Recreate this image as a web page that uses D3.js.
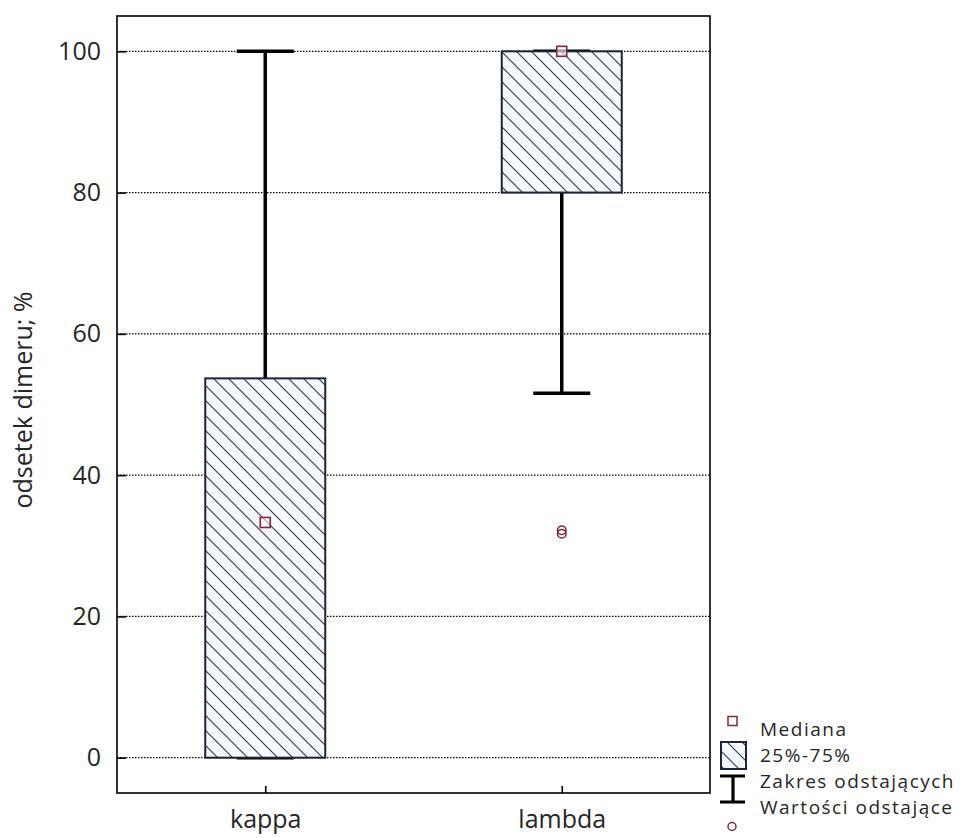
<!DOCTYPE html>
<html>
<head>
<meta charset="utf-8">
<script src="https://cdn.jsdelivr.net/npm/d3@7"></script>
<style>
  html, body { margin: 0; padding: 0; background: #fff; }
  svg { display: block; font-family: "Open Sans", "Noto Sans", sans-serif; }
</style>
</head>
<body>
<svg id="chart" width="967" height="838"></svg>
<script>
// Box-plot statistics per group (odsetek dimeru, %)
const categories = ["kappa", "lambda"];
const medians    = [33.3, 100];
const q1         = [0, 80];
const q3         = [53.7, 100];
const whiskerLow = [0, 51.6];
const whiskerHigh= [100, 100];
const outliers   = [[], [31.7, 32.2]];
const yTicks     = [0, 20, 40, 60, 80, 100];
const yTitle     = "odsetek dimeru; %";
const legendLabels = ["Mediana", "25%-75%", "Zakres odstających", "Wartości odstające"];

const svg = d3.select("#chart");
const plot = { left: 117, right: 710, top: 16, bottom: 793 };

const x = d3.scalePoint().domain(categories).range([plot.left, plot.right]).padding(0.5);
const y = d3.scaleLinear().domain([-5, 105]).range([plot.bottom, plot.top]);

const boxW = 120, capW = 57;
const markRed = "#7d2b36";
const boxStroke = "#1d2438";
const textCol = "#262626";

// hatch pattern for the interquartile boxes
const defs = svg.append("defs");
const pat = defs.append("pattern")
  .attr("id", "hatch").attr("patternUnits", "userSpaceOnUse")
  .attr("width", 15).attr("height", 15);
pat.append("rect").attr("width", 15).attr("height", 15).attr("fill", "#f5f9fd");
pat.append("path").attr("d", "M-3,-3 L18,18 M-3,12 L3,18 M12,-3 L18,3")
  .attr("stroke", "#2f3a4c").attr("stroke-width", 1.1);

// dotted horizontal grid
svg.append("g").selectAll("line").data(yTicks).join("line")
  .attr("x1", plot.left).attr("x2", plot.right)
  .attr("y1", d => y(d)).attr("y2", d => y(d))
  .attr("stroke", "#000").attr("stroke-width", 1.2).attr("stroke-dasharray", "1.5,1.5");

// whiskers
const idx = categories.map((c, i) => i);
svg.append("g").selectAll("line").data(idx).join("line")
  .attr("x1", i => x(categories[i])).attr("x2", i => x(categories[i]))
  .attr("y1", i => y(whiskerHigh[i])).attr("y2", i => y(q3[i]))
  .attr("stroke", "#000").attr("stroke-width", 3.5);
svg.append("g").selectAll("line").data(idx).join("line")
  .attr("x1", i => x(categories[i])).attr("x2", i => x(categories[i]))
  .attr("y1", i => y(q1[i])).attr("y2", i => y(whiskerLow[i]))
  .attr("stroke", "#000").attr("stroke-width", 3.5);
// whisker caps
const caps = [];
idx.forEach(i => { caps.push([i, whiskerHigh[i]]); caps.push([i, whiskerLow[i]]); });
svg.append("g").selectAll("line").data(caps).join("line")
  .attr("x1", d => x(categories[d[0]]) - capW / 2).attr("x2", d => x(categories[d[0]]) + capW / 2)
  .attr("y1", d => y(d[1])).attr("y2", d => y(d[1]))
  .attr("stroke", "#000").attr("stroke-width", 3.5);

// boxes
svg.append("g").selectAll("rect").data(idx).join("rect")
  .attr("x", i => x(categories[i]) - boxW / 2)
  .attr("y", i => y(q3[i]))
  .attr("width", boxW)
  .attr("height", i => y(q1[i]) - y(q3[i]))
  .attr("fill", "url(#hatch)")
  .attr("stroke", boxStroke).attr("stroke-width", 2);

// medians
svg.append("g").selectAll("rect").data(idx).join("rect")
  .attr("x", i => x(categories[i]) - 5).attr("y", i => y(medians[i]) - 5)
  .attr("width", 10).attr("height", 10)
  .attr("fill", "#fbf3f3").attr("fill-opacity", 0.6)
  .attr("stroke", markRed).attr("stroke-width", 1.6);

// outliers
const outPts = [];
idx.forEach(i => outliers[i].forEach(v => outPts.push([i, v])));
svg.append("g").selectAll("circle").data(outPts).join("circle")
  .attr("cx", d => x(categories[d[0]])).attr("cy", d => y(d[1]))
  .attr("r", 4.3).attr("fill", "none")
  .attr("stroke", markRed).attr("stroke-width", 1.6);

// frame
svg.append("rect")
  .attr("x", plot.left).attr("y", plot.top)
  .attr("width", plot.right - plot.left).attr("height", plot.bottom - plot.top)
  .attr("fill", "none").attr("stroke", "#000").attr("stroke-width", 1.6);

// y axis (ticks pointing inward)
const yAxis = svg.append("g").attr("transform", `translate(${plot.left},0)`)
  .call(d3.axisLeft(y).tickValues(yTicks).tickSizeInner(-9).tickSizeOuter(0).tickPadding(16));
yAxis.select(".domain").remove();
yAxis.selectAll(".tick line").attr("stroke", "#000").attr("stroke-width", 1.6);
yAxis.selectAll(".tick text").attr("font-size", 25).attr("fill", textCol)
  .attr("font-family", "'Open Sans', sans-serif");

// x axis (ticks pointing inward)
const xAxis = svg.append("g").attr("transform", `translate(0,${plot.bottom})`)
  .call(d3.axisBottom(x).tickSizeInner(-7).tickSizeOuter(0).tickPadding(17));
xAxis.select(".domain").remove();
xAxis.selectAll(".tick line").attr("stroke", "#000").attr("stroke-width", 1.6);
xAxis.selectAll(".tick text").attr("font-size", 25).attr("fill", textCol)
  .attr("font-family", "'Open Sans', sans-serif");

// y title
svg.append("text")
  .attr("transform", "translate(32,400) rotate(-90)")
  .attr("text-anchor", "middle")
  .attr("font-size", 25).attr("fill", textCol)
  .text(yTitle);

// legend
const lg = svg.append("g");
const lx = 760;
const baselines = [736, 762, 788, 814];
lg.selectAll("text").data(legendLabels).join("text")
  .attr("x", lx).attr("y", (d, i) => baselines[i])
  .attr("font-size", 19).attr("letter-spacing", 1.5).attr("fill", textCol)
  .text(d => d);
lg.append("rect").attr("x", 728).attr("y", 716.5).attr("width", 9).attr("height", 9)
  .attr("fill", "none").attr("stroke", markRed).attr("stroke-width", 1.5);
lg.append("rect").attr("x", 721).attr("y", 742).attr("width", 25).attr("height", 27)
  .attr("fill", "url(#hatch)").attr("stroke", boxStroke).attr("stroke-width", 2);
lg.append("path").attr("d", "M720,776 H745 M733,776 V802 M720,802 H745")
  .attr("stroke", "#000").attr("stroke-width", 3.2).attr("fill", "none");
lg.append("circle").attr("cx", 732).attr("cy", 826.5).attr("r", 4)
  .attr("fill", "none").attr("stroke", markRed).attr("stroke-width", 1.5);
</script>
</body>
</html>
